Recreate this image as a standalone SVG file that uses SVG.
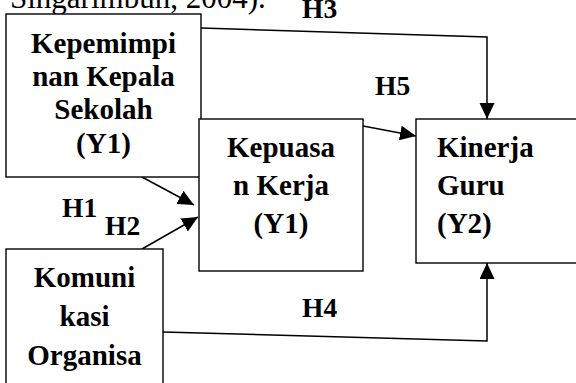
<svg xmlns="http://www.w3.org/2000/svg" width="576" height="383" viewBox="0 0 576 383">
<style>
.box{fill:#fff;stroke:#000;stroke-width:1.4}
.t{font-family:"Liberation Serif","Times New Roman",serif;font-weight:bold;font-size:29px;fill:#000}
.l{font-family:"Liberation Serif","Times New Roman",serif;font-weight:bold;font-size:27.5px;fill:#000}
.c{text-anchor:middle}
.ln{fill:none;stroke:#000;stroke-width:1.5}
.top{font-family:"Liberation Serif","Times New Roman",serif;font-size:31px;fill:#000}
</style>
<defs>
<marker id="ah" markerUnits="userSpaceOnUse" markerWidth="17" markerHeight="16" refX="16" refY="7.5" orient="auto" viewBox="0 0 17 16">
<path d="M0,0 L16,7.5 L0,15 z" fill="#000"/>
</marker>
</defs>
<text class="top" x="10" y="8">Singarimbun, 2004).</text>
<g id="connectors">
<polyline class="ln" points="201,28 487,37 487,119" marker-end="url(#ah)"/>
<line class="ln" x1="363" y1="126" x2="416" y2="136" marker-end="url(#ah)"/>
<line class="ln" x1="142" y1="177" x2="194" y2="205" marker-end="url(#ah)"/>
<line class="ln" x1="142" y1="249" x2="198" y2="217" marker-end="url(#ah)"/>
<polyline class="ln" points="163,332 487,341 487,263" marker-end="url(#ah)"/>
<text class="l" x="302" y="18">H3</text>
<text class="l" x="375" y="95">H5</text>
<text class="l" x="62" y="217">H1</text>
<text class="l" x="105" y="235">H2</text>
<text class="l" x="302" y="317">H4</text>
</g>
<g id="kepemimpinan">
<rect class="box" x="6" y="14" width="195" height="163"/>
<text class="t c" x="103.5" y="53">Kepemimpi</text>
<text class="t c" x="103.5" y="86">nan Kepala</text>
<text class="t c" x="103.5" y="119">Sekolah</text>
<text class="t c" x="103.5" y="153">(Y1)</text>
</g>
<g id="kepuasan">
<rect class="box" x="199" y="119" width="164" height="152"/>
<text class="t c" x="281" y="157">Kepuasa</text>
<text class="t c" x="281" y="195">n Kerja</text>
<text class="t c" x="281" y="233">(Y1)</text>
</g>
<g id="kinerja">
<rect class="box" x="416" y="119" width="170" height="144"/>
<text class="t" x="437" y="157">Kinerja</text>
<text class="t" x="437" y="195">Guru</text>
<text class="t" x="437" y="233">(Y2)</text>
</g>
<g id="komunikasi">
<rect class="box" x="6" y="249" width="157" height="145"/>
<text class="t c" x="84.5" y="287">Komuni</text>
<text class="t c" x="84.5" y="326">kasi</text>
<text class="t c" x="84.5" y="365">Organisa</text>
</g>
</svg>
